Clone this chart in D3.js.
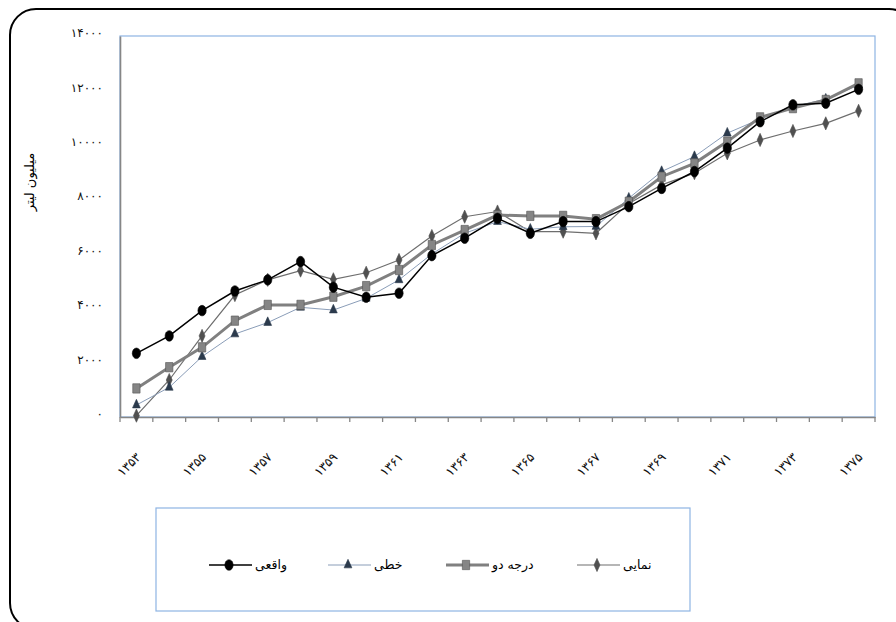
<!DOCTYPE html>
<html><head><meta charset="utf-8">
<script src="https://cdn.jsdelivr.net/npm/d3@7"></script>
<style>body{margin:0;background:#fff}svg{display:block}text{font-family:"DejaVu Sans",sans-serif}</style>
</head><body><svg id="c" width="896" height="622"></svg>
<script>
const categories = ["۱۳۵۳","۱۳۵۴","۱۳۵۵","۱۳۵۶","۱۳۵۷","۱۳۵۸","۱۳۵۹","۱۳۶۰","۱۳۶۱","۱۳۶۲","۱۳۶۳","۱۳۶۴","۱۳۶۵","۱۳۶۶","۱۳۶۷","۱۳۶۸","۱۳۶۹","۱۳۷۰","۱۳۷۱","۱۳۷۲","۱۳۷۳","۱۳۷۴","۱۳۷۵"];
const actual = [2340,2980,3910,4630,5040,5710,4770,4400,4550,5930,6570,7300,6750,7180,7180,7730,8400,9020,9880,10850,11470,11530,12040];
const linear = [440,1090,2220,3050,3470,4030,3930,4360,5040,5990,6750,7180,6900,6990,7000,8040,9020,9570,10430,10950,11400,11680,12200];
const quadratic = [1050,1830,2560,3540,4120,4120,4420,4810,5400,6320,6870,7420,7390,7390,7270,7910,8830,9320,10120,11010,11350,11650,12260];
const exponential = [50,1360,2980,4480,5040,5380,5060,5300,5770,6650,7360,7550,6810,6810,6750,7850,8530,8960,9690,10180,10510,10790,11250];
const seriesNames = ["واقعی","خطی","درجه دو","نمایی"];
const yTickValues = [0,2000,4000,6000,8000,10000,12000,14000];
const yTickLabels = ["۰","۲۰۰۰","۴۰۰۰","۶۰۰۰","۸۰۰۰","۱۰۰۰۰","۱۲۰۰۰","۱۴۰۰۰"];
const yTitle = "میلیون لیتر";

const svg = d3.select("#c");
const L = 120, R = 875, T = 36, B = 417;

// outer frame
svg.append("rect").attr("x",10).attr("y",9).attr("width",905).attr("height",620)
  .attr("rx",26).attr("fill","none").attr("stroke","#000").attr("stroke-width",2);

const x = d3.scaleBand().domain(categories).range([L,R]);
const y = d3.scaleLinear().domain([0,14000]).range([B,T]);
const cx = i => x(categories[i]) + x.bandwidth()/2;

// plot area border
svg.append("rect").attr("x",L).attr("y",T).attr("width",R-L).attr("height",B-T)
  .attr("fill","none").attr("stroke","#8eb4e3").attr("stroke-width",1.2);

// y axis
const yAx = svg.append("g").attr("transform",`translate(${L},0)`)
  .call(d3.axisLeft(y).tickValues(yTickValues).tickSize(0).tickPadding(17)
    .tickFormat((d,i)=>yTickLabels[i]));
yAx.select(".domain").attr("stroke","#868686").attr("stroke-width",1.6);
yAx.selectAll("text").attr("font-size",12).attr("fill","#111").attr("dy","0.05em");

// x axis
const xAx = svg.append("g").attr("transform",`translate(0,${B})`)
  .call(d3.axisBottom(x).tickSize(0).tickSizeOuter(0).tickFormat((d,i)=> i%2===0 ? d : ""));
xAx.select(".domain").attr("stroke","#868686").attr("stroke-width",1.6);
xAx.selectAll("text").attr("font-size",12.5).attr("fill","#111")
  .attr("text-anchor","end").attr("dy",0).attr("y",0)
  .attr("transform","translate(5,41) rotate(-45)");
// boundary ticks
const bounds = categories.map(c=>x(c)).concat([x(categories[categories.length-1])+x.bandwidth()]);
svg.append("g").selectAll("line").data(bounds).join("line")
  .attr("x1",d=>d).attr("x2",d=>d).attr("y1",B).attr("y2",B+5)
  .attr("stroke","#868686").attr("stroke-width",1.3);

// y title
svg.append("text").attr("transform","translate(34,182) rotate(-90)")
  .attr("text-anchor","middle").attr("font-size",13).text(yTitle);

const line = d3.line().x((d,i)=>cx(i)).y(d=>y(d));

const styles = [
  {data:actual, stroke:"#000", sw:1.5, sym:d3.symbolCircle, size:66, fill:"#000", mstroke:"#000"},
  {data:linear, stroke:"#8a9db8", sw:1, sym:d3.symbolTriangle, size:32, fill:"#2b3a4c", mstroke:"#2b3a4c"},
  {data:quadratic, stroke:"#808080", sw:3, sym:d3.symbolSquare, size:66, fill:"#858585", mstroke:"#555"},
  {data:exponential, stroke:"#6e6e6e", sw:1.2, sym:d3.symbolDiamond, size:38, fill:"#505050", mstroke:"#505050"}
];
const drawOrder = [3,1,2,0];
drawOrder.forEach(k=>{
  const s = styles[k];
  svg.append("path").datum(s.data).attr("d",line).attr("fill","none")
    .attr("stroke",s.stroke).attr("stroke-width",s.sw);
});
drawOrder.forEach(k=>{
  const s = styles[k];
  svg.append("g").selectAll("path").data(s.data).join("path")
    .attr("d",d3.symbol().type(s.sym).size(s.size))
    .attr("transform",(d,i)=>`translate(${cx(i)},${y(d)}) scale(0.9,1.15)`)
    .attr("fill",s.fill).attr("stroke",s.mstroke).attr("stroke-width",0.6);
});

// legend
svg.append("rect").attr("x",156).attr("y",508).attr("width",534).attr("height",103)
  .attr("fill","none").attr("stroke","#8eb4e3").attr("stroke-width",1.2);
const legX = [209,328,446,577];
const ly = 565;
styles.forEach((s,k)=>{
  const g = svg.append("g");
  g.append("line").attr("x1",legX[k]).attr("x2",legX[k]+43).attr("y1",ly).attr("y2",ly)
    .attr("stroke",s.stroke).attr("stroke-width",s.sw);
  g.append("path").attr("d",d3.symbol().type(s.sym).size(s.size)())
    .attr("transform",`translate(${legX[k]+20},${ly}) scale(0.9,1.15)`)
    .attr("fill",s.fill).attr("stroke",s.mstroke).attr("stroke-width",0.6);
  g.append("text").attr("x",legX[k]+46).attr("y",ly).attr("dy","0.3em")
    .attr("font-size",12.5).attr("direction","rtl").attr("text-anchor","end").text(seriesNames[k]);
});
</script></body></html>
